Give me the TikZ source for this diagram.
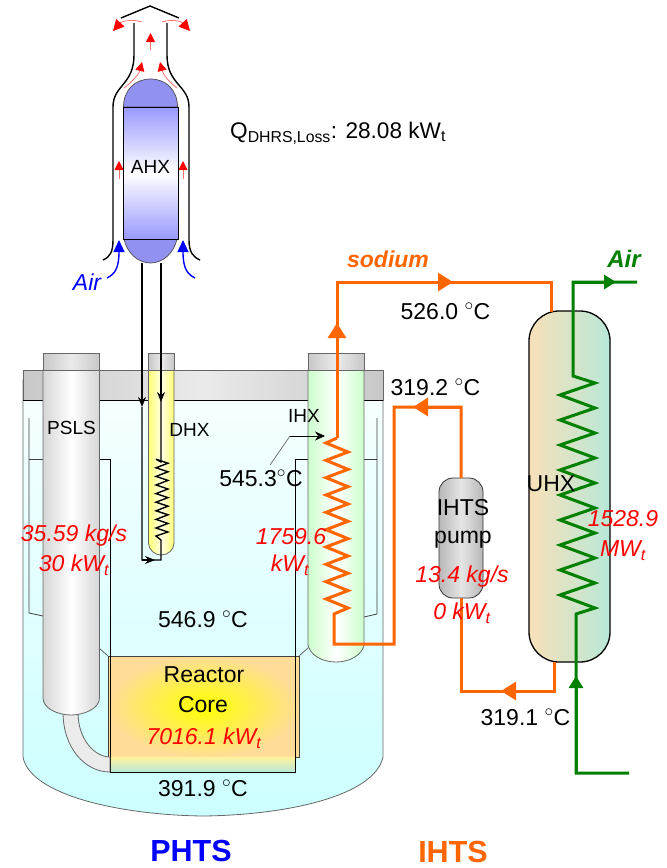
\documentclass[tikz,border=0pt]{standalone}
\usepackage{fontspec}
\setmainfont{Liberation Sans}
\usetikzlibrary{arrows.meta}
\definecolor{naorange}{HTML}{FF6600}
\definecolor{airgreen}{HTML}{008000}
\definecolor{poolcyan}{HTML}{CCFFFF}
\definecolor{wallgray}{HTML}{666666}
\definecolor{capgray}{HTML}{C8C8C8}
\definecolor{coreorange}{HTML}{FFDD99}
\definecolor{ahxblue}{HTML}{9999FF}
\definecolor{uhxwarm}{HTML}{F8E0B8}
\definecolor{uhxcool}{HTML}{B8E8D8}
\newcommand{\degC}{$^{\circ}$C}
\tikzset{
  lbl/.style={inner sep=0pt,font=\fontsize{19}{22}\selectfont},
  temp/.style={inner sep=0pt,font=\fontsize{23}{26}\selectfont},
  power/.style={inner sep=0pt,text=red,font=\fontsize{23}{26}\selectfont\itshape},
  loopname/.style={inner sep=0pt,font=\fontsize{30.5}{34}\selectfont\bfseries},
  wall/.style={draw=wallgray,line width=0.8pt},
  thinwall/.style={draw=black!75,line width=0.8pt},
  naline/.style={draw=naorange,line width=3pt},
  naflow/.style={naline,-{Triangle[length=15pt,width=18pt]}},
  airline/.style={draw=airgreen,line width=3pt},
  airflow/.style={airline,-{Triangle[length=12pt,width=14pt]}},
  redflow/.style={draw=red!55,line width=0.8pt,-{Triangle[length=9pt,width=9pt,color=red]}},
  redbig/.style={redflow,-{Triangle[length=11pt,width=11pt,color=red]}},
  blueflow/.style={draw=blue,line width=1.4pt,-{Triangle[length=12pt,width=11pt]}},
  dhxtube/.style={draw=black,line width=1.4pt},
  dhxflow/.style={dhxtube,-{Stealth[length=10pt,width=8pt]}},
  stackwall/.style={draw=black,line width=1.4pt},
}
\begin{document}
\begin{tikzpicture}[x=1pt,y=-1pt]
\useasboundingbox (0,0) rectangle (667,868);

% vessel
\path[wall,top color=poolcyan!15!white,middle color=poolcyan!88!white,bottom color=poolcyan]
  (23,380) -- (383,380) -- (383,757) .. controls (375,795) and (290,815) .. (203,816)
  .. controls (120,815) and (30,795) .. (23,757) -- cycle;
\draw[thinwall] (29,418) -- (29,613) -- (43,616);
\draw[thinwall] (29,459) -- (43,459);
\draw[thinwall] (377,418) -- (377,614) -- (364,617);
\draw[thinwall] (364,459) -- (377,459);
\path[wall,left color=capgray,right color=capgray,middle color=white!92!black]
  (23,370) rectangle (383,400);
\draw[black,line width=0.8pt] (23,400) -- (383,400);

% core
\shade[inner color=yellow,outer color=coreorange] (108,656) rectangle (299,757);
\draw[thinwall] (108,656) rectangle (299,757);
\path[top color=coreorange!60!yellow!60!white,bottom color=uhxcool] (110,757) rectangle (295,772);
\draw[black,line width=0.8pt] (110,459) -- (110,772) -- (295,772) -- (295,459);
\draw[black,line width=0.8pt] (99,459) -- (110,459);
\draw[black,line width=0.8pt] (295,459) -- (308,459);
\draw[wall] (99,648) -- (108,656);
\draw[wall] (308,648) -- (299,656);

% PSLS
\path[wall,top color=black!8,bottom color=black!8] (63,712) .. controls (63,748) and (85,772) .. (110,772)
  -- (110,757) .. controls (95,757) and (78,740) .. (78,712) -- cycle;
\path[wall,left color=black!16,right color=black!16,middle color=white]
  (43,370) -- (99.5,370) -- (99.5,698) .. controls (99.5,708) and (85,715) .. (71,715)
  .. controls (57,715) and (43,708) .. (43,698) -- cycle;
\path[wall,left color=capgray,right color=capgray,middle color=white!92!black] (43,353) rectangle (99.5,370);

% DHX
\path[wall,left color=yellow!55,right color=yellow!55,middle color=yellow!10]
  (148.5,370) -- (174,370) -- (174,543) .. controls (174,550) and (168,555) .. (161,555)
  .. controls (155,555) and (148.5,550) .. (148.5,543) -- cycle;
\path[wall,left color=capgray,right color=capgray,middle color=white!92!black] (148.5,353) rectangle (174,370);

% IHX
\path[wall,left color=green!20,right color=green!20,middle color=white]
  (308,370) -- (364,370) -- (364,645) .. controls (362,655) and (350,662) .. (336,662)
  .. controls (322,662) and (310,655) .. (308,645) -- cycle;
\path[wall,left color=capgray,right color=capgray,middle color=white!92!black] (308,353) rectangle (364,370);

% AHX
\path[draw=black!70,line width=0.7pt,fill=ahxblue!95!black]
  (123.5,107) .. controls (123.5,90) and (135,79) .. (150.5,79) .. controls (166,79) and (177.5,90) .. (177.5,107) -- cycle;
\path[draw=black!70,line width=0.7pt,fill=ahxblue!95!black]
  (124,239) .. controls (127,253) and (138,263) .. (150.5,263) .. controls (163,263) and (174,253) .. (177,239) -- cycle;
\path[draw=black,line width=0.8pt,top color=ahxblue,bottom color=ahxblue,middle color=white]
  (123.5,107) rectangle (178,239);
\draw[stackwall] (103,260) .. controls (110,257) and (113,252) .. (113,240) -- (113,107)
  .. controls (113,85) and (134,85) .. (134,55) -- (134,23);
\draw[stackwall] (200,260) .. controls (193,257) and (189,252) .. (189,240) -- (189,107)
  .. controls (189,85) and (167,85) .. (167,55) -- (167,23);
\draw[stackwall] (121,18) -- (150,6) -- (179,18);

% air flow through the AHX stack
\draw[redflow] (150.5,50) -- (150.5,33);
\draw[redbig] (142,22) .. controls (133,19) and (122,21) .. (113,31);
\draw[redbig] (162,22) .. controls (171,19) and (181,21) .. (190,31);
\draw[redflow] (124,88) .. controls (132,82) and (139,74) .. (142,62);
\draw[redflow] (177,88) .. controls (169,82) and (163,74) .. (160,62);
\draw[redflow] (119,179) -- (119,161);
\draw[redflow] (183,179) -- (183,161);
\draw[blueflow] (107,278) .. controls (115,274) and (119,268) .. (119,240);
\draw[blueflow] (195,278) .. controls (187,274) and (183,268) .. (183,240);

% DHX loop
\coordinate (dhxIn) at (142,263);
\coordinate (dhxDown) at (142,407);
\coordinate (dhxCornerL) at (142,560);
\coordinate (dhxFlow) at (155,560);
\coordinate (dhxCornerR) at (161,560);
\coordinate (dhxOut) at (161,263);
\coordinate (dhxUp) at (161,402);
\draw[dhxflow] (dhxIn) -- (dhxDown);
\draw[dhxtube] (dhxDown) -- (dhxCornerL) -- (dhxCornerR) -- (161,540) -- (156,536)
  \foreach \k in {0,...,8} { -- (168,{532-8.6*\k}) -- (156,{528-8.6*\k}) } -- (161,462) -- (dhxOut);
\draw[dhxflow] (dhxCornerL) -- (dhxFlow);
\draw[dhxflow] (dhxOut) -- (dhxUp);

% sodium loop
\coordinate (uhxTop) at (551,312);
\coordinate (naTopR) at (551,282);
\coordinate (naTopL) at (337,282);
\coordinate (naArrowTop) at (453,282);
\coordinate (naArrowUp) at (337,323);
\coordinate (ihxTop) at (337,438);
\coordinate (ihxBotA) at (334,614);
\coordinate (ihxBotB) at (334,644);
\coordinate (naRiserB) at (394,644);
\coordinate (naRiserT) at (394,407);
\coordinate (naArrowLeft) at (413,407);
\coordinate (pumpTop) at (461,478);
\coordinate (naPumpT) at (461,407);
\coordinate (pumpBot) at (461,598);
\coordinate (naBotL) at (461,691);
\coordinate (naArrowBot) at (501,691);
\coordinate (naBotR) at (554,691);
\coordinate (uhxBot) at (554,662);

% IHTS pump
\path[draw=black!80,line width=0.8pt,left color=black!28,right color=black!28,middle color=black!10,rounded corners=14pt]
  (439,478) rectangle (483,598);
% UHX
\path[draw=black,line width=1.3pt,left color=uhxwarm,right color=uhxcool,middle color=uhxwarm!50!uhxcool,rounded corners=30pt]
  (529,311) rectangle (610,662);

\draw[naline] (ihxTop)
  \foreach \k in {0,...,9} { -- (326,{443+17.33*\k}) -- (348,{452+17.33*\k}) } -- (ihxBotA) -- (ihxBotB) -- (naRiserB) -- (naRiserT) -- (naPumpT) -- (pumpTop);
\draw[naline] (pumpBot) -- (naBotL) -- (naBotR) -- (uhxBot);
\draw[naline] (uhxTop) -- (naTopR) -- (naTopL) -- (ihxTop);
\draw[naflow] (naTopL) -- (naArrowTop);
\draw[naflow] (ihxTop) -- (naArrowUp);
\draw[naflow] (naPumpT) -- (naArrowLeft);
\draw[naflow] (naBotR) -- (naArrowBot);

% air loop of the UHX
\coordinate (airOutEnd) at (637,282);
\coordinate (airOutArrow) at (616,282);
\coordinate (airCorner) at (573,282);
\coordinate (airCoilT) at (573,376);
\coordinate (airCoilB) at (576,614);
\coordinate (airCornerB) at (576,773);
\coordinate (airArrowUp) at (576,676);
\coordinate (airInEnd) at (629,773);
\draw[airline] (airInEnd) -- (airCornerB) -- (airCoilB)
  -- (595,608) \foreach \k in {0,...,8} { -- (560,{595-25*\k}) -- (595,{583-25*\k}) } -- (airCoilT) -- (airCorner) -- (airOutEnd);
\draw[airflow] (airCornerB) -- (airArrowUp);
\draw[airflow] (airCorner) -- (airOutArrow);

% 545.3 pointer
\coordinate (ptrBend) at (290,436);
\coordinate (ptrTip) at (325,436);
\coordinate (ptrFoot) at (270,465);
\draw[black!60,line width=0.7pt] (ptrFoot) -- (ptrBend);
\draw[black,line width=0.7pt,-{Stealth[length=10pt,width=9pt]}] (ptrBend) -- (ptrTip);

% labels
\node[lbl] (ahxname) at (150.5,167) {AHX};
\node[lbl] (pslsname) at (71.5,428) {PSLS};
\node[lbl] (dhxname) at (189.5,430) {DHX};
\node[lbl] (ihxname) at (304,416) {IHX};
\node[temp] (ihtsname) at (463,508) {IHTS};
\node[temp] (pumpname) at (463,540) {pump};
\node[temp] (uhxname) at (551,484) {UHX};
\node[temp] (corename) at (204,675) {Reactor};
\node[temp] (corenameb) at (203,705) {Core};
\node[inner sep=0pt,anchor=west,font=\fontsize{22.6}{26}\selectfont] (lossname) at (230,133) {Q\textsubscript{DHRS,Loss}: 28.08 kW\textsubscript{t}};
\node[temp] (tempihxout) at (445.5,311) {526.0 \degC};
\node[temp] (tempihxin) at (435.5,387) {319.2 \degC};
\node[temp] (tempuhxout) at (525.5,717) {319.1 \degC};
\node[temp] (temphot) at (261,478) {545.3\degC};
\node[temp] (temppool) at (203,619) {546.9 \degC};
\node[temp] (tempcold) at (203,788) {391.9 \degC};
\node[power] (pslsflow) at (74,536) {35.59 kg/s};
\node[power] (pslspower) at (74,565) {30 kW\textsubscript{t}};
\node[power] (ihxpower) at (291,537) {1759.6};
\node[power] (ihxunit) at (290,565) {kW\textsubscript{t}};
\node[power] (corepower) at (204,738) {7016.1 kW\textsubscript{t}};
\node[power] (pumpflow) at (462,577) {13.4 kg/s};
\node[power] (pumppower) at (462,613) {0 kW\textsubscript{t}};
\node[power] (uhxpower) at (623,519) {1528.9};
\node[power] (uhxunit) at (623,551) {MW\textsubscript{t}};
\node[power,text=blue] (airblue) at (87,282) {Air};
\node[inner sep=0pt,text=naorange,font=\fontsize{23}{26}\selectfont\bfseries\itshape] (sodiumname) at (388,259) {sodium};
\node[inner sep=0pt,text=airgreen,font=\fontsize{24}{26}\selectfont\bfseries\itshape] (airgreenname) at (624,259) {Air};
\node[loopname,text=blue] (phtsname) at (191,851) {PHTS};
\node[loopname,text=naorange] (ihtsloop) at (453,852) {IHTS};
\end{tikzpicture}
\end{document}
